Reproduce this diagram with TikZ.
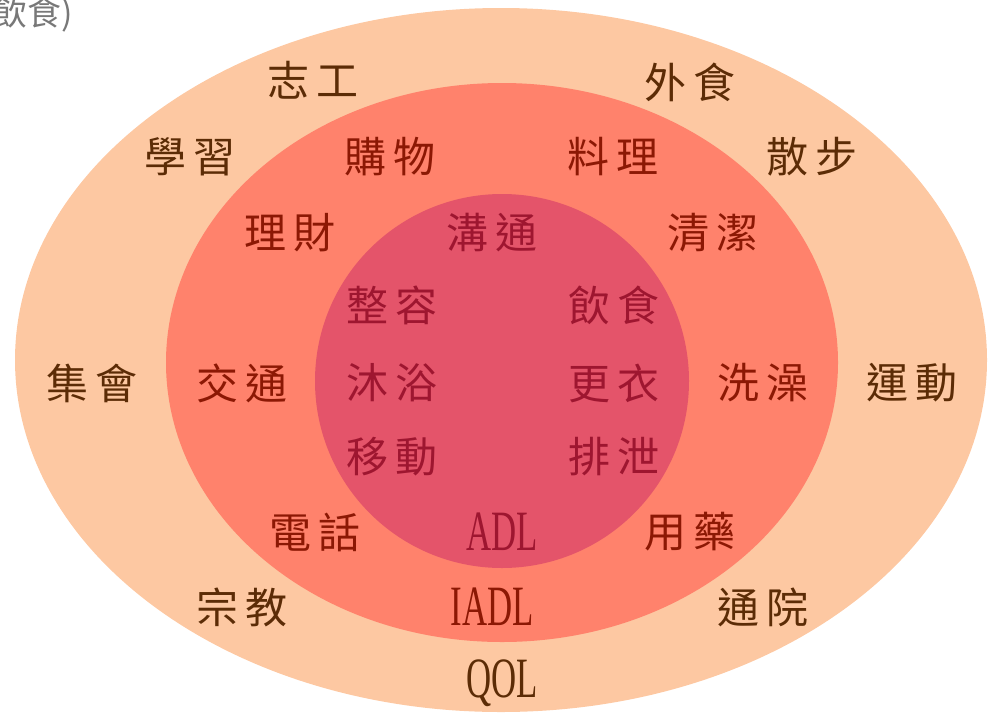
\documentclass[tikz,border=0pt]{standalone}
\usepackage{fontspec}
\setmainfont{Liberation Serif}
\newfontfamily\cjk{Noto Sans CJK TC}
\definecolor{outerfill}{RGB}{253,200,162}
\definecolor{midfill}{RGB}{255,130,108}
\definecolor{innerfill}{RGB}{228,84,106}
\definecolor{outertext}{RGB}{92,44,6}
\definecolor{midtext}{RGB}{140,24,4}
\definecolor{innertext}{RGB}{158,22,48}
\definecolor{graytext}{RGB}{120,120,120}
\newcommand\twochar[2]{#1\kern 8pt#2}
\newcommand\latinlab[1]{\scalebox{0.61}[1]{#1}}
\tikzset{
  lab/.style={inner sep=0pt, font=\cjk\fontsize{42}{44}\selectfont},
  outerlab/.style={lab, text=outertext},
  midlab/.style={lab, text=midtext},
  innerlab/.style={lab, text=innertext},
  latin/.style={inner sep=0pt, font=\fontsize{57}{60}\selectfont},
}
\begin{document}
\begin{tikzpicture}[x=1pt,y=-1pt]
\useasboundingbox (0,0) rectangle (992,715);
\fill[outerfill] (501,360) ellipse [x radius=486pt, y radius=352pt];
\fill[midfill] (502,362.5) ellipse [x radius=336pt, y radius=279.5pt];
\fill[innerfill] (502,381) circle [radius=187pt];
\node[anchor=east, inner sep=0pt, text=graytext, font=\cjk\fontsize{34}{36}\selectfont] (cut) at (73,14) {飲食)};
% outer ring
\node[outerlab] (zhigong) at (313,80) {\twochar{志}{工}};
\node[outerlab] (waishi) at (690,82) {\twochar{外}{食}};
\node[outerlab] (xuexi) at (190,157) {\twochar{學}{習}};
\node[outerlab] (sanbu) at (812,157) {\twochar{散}{步}};
\node[outerlab] (jihui) at (92,383) {\twochar{集}{會}};
\node[outerlab] (yundong) at (912,383) {\twochar{運}{動}};
\node[outerlab] (zongjiao) at (242,607) {\twochar{宗}{教}};
\node[outerlab] (tongyuan) at (763,607) {\twochar{通}{院}};
\node[latin, text=outertext] (qol) at (502,683) {\latinlab{QOL}};
% middle ring
\node[midlab] (gouwu) at (390,157) {\twochar{購}{物}};
\node[midlab] (liaoli) at (613,157) {\twochar{料}{理}};
\node[midlab] (licai) at (290,233) {\twochar{理}{財}};
\node[midlab] (qingjie) at (713,233) {\twochar{清}{潔}};
\node[midlab] (jiaotong) at (242,383) {\twochar{交}{通}};
\node[midlab] (xizao) at (763,383) {\twochar{洗}{澡}};
\node[midlab] (dianhua) at (315,532) {\twochar{電}{話}};
\node[midlab] (yongyao) at (690,532) {\twochar{用}{藥}};
\node[latin, text=midtext] (iadl) at (492,607) {\latinlab{IADL}};
% inner circle
\node[innerlab] (goutong) at (492,233) {\twochar{溝}{通}};
\node[innerlab] (zhengrong) at (392,305) {\twochar{整}{容}};
\node[innerlab] (yinshi) at (614,305) {\twochar{飲}{食}};
\node[innerlab] (muyu) at (392,383) {\twochar{沐}{浴}};
\node[innerlab] (gengyi) at (614,383) {\twochar{更}{衣}};
\node[innerlab] (yidong) at (392,457) {\twochar{移}{動}};
\node[innerlab] (paixie) at (614,457) {\twochar{排}{泄}};
\node[latin, text=innertext] (adl) at (502,532) {\latinlab{ADL}};
\end{tikzpicture}
\end{document}
